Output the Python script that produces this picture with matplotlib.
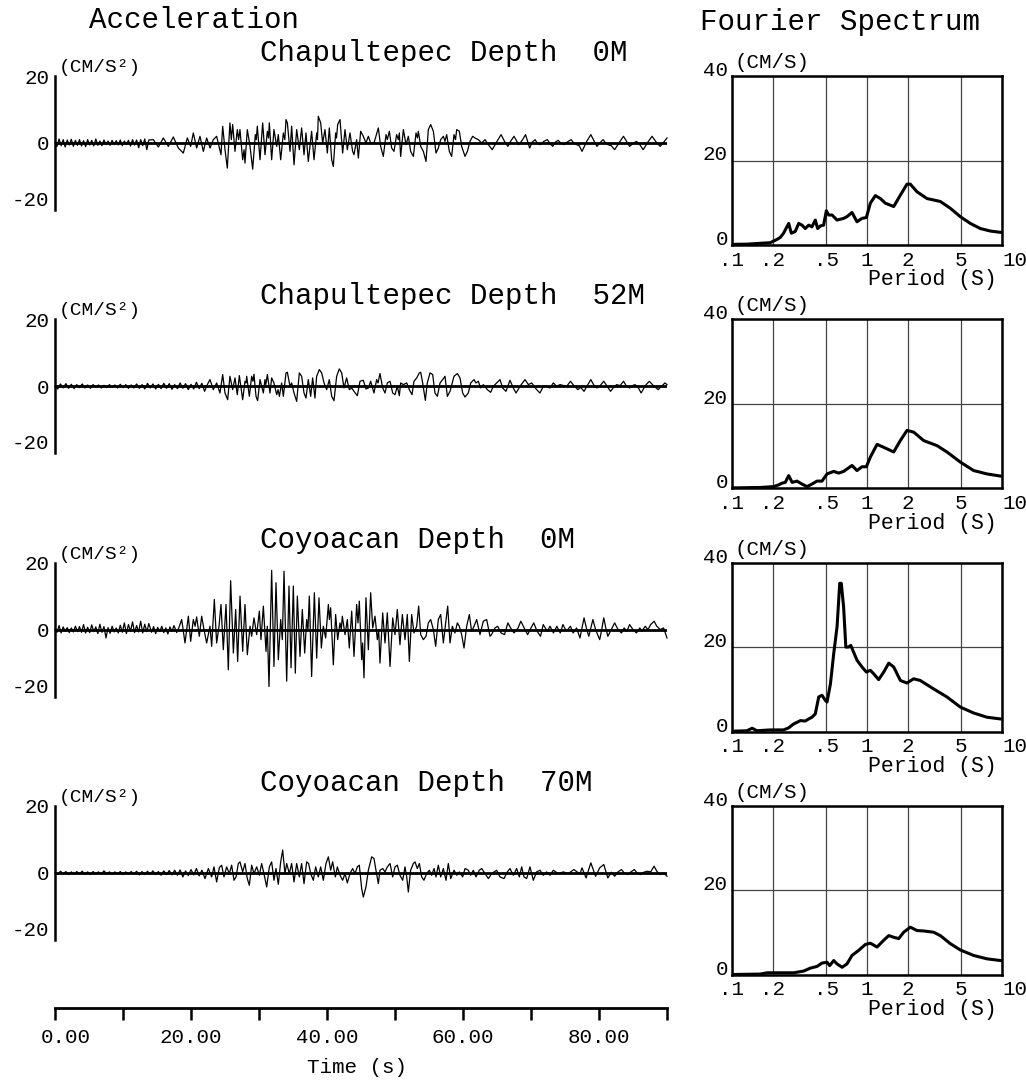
import matplotlib
matplotlib.use('Agg')
import matplotlib.pyplot as plt
from matplotlib.ticker import NullLocator

plt.rcParams['font.family'] = ['Liberation Mono', 'DejaVu Sans Mono']

# ---------------- data ----------------
titles = ['Chapultepec Depth  0M', 'Chapultepec Depth  52M',
          'Coyoacan Depth  0M', 'Coyoacan Depth  70M']

# acceleration traces (time s, cm/s^2), peaks and troughs as read
chap0 = [
    (0.0, 0.2), (0.3, -1.0), (0.6, 1.2), (0.9, -0.8), (1.2, 1.0), (1.5, -1.2), (1.8, 0.9), (2.1, -0.6),
    (2.4, 1.1), (2.7, -1.0), (3.0, 0.8), (3.3, -0.7), (3.6, 1.0), (3.9, -0.9), (4.2, 0.7), (4.5, -1.1),
    (4.8, 1.0), (5.1, -0.6), (5.4, 0.8), (5.7, -0.9), (6.0, 1.2), (6.3, -0.7), (6.6, 0.6), (6.9, -0.8),
    (7.2, 0.9), (7.5, -0.5), (7.8, 0.6), (8.1, -0.7), (8.4, 0.8), (8.7, -0.5), (9.0, 0.7), (9.3, -0.6),
    (9.6, 0.9), (9.9, -0.8), (10.2, 0.6), (10.5, -0.5), (10.8, 0.8), (11.1, -0.9), (11.4, 1.0), (11.7, -0.6),
    (12.0, 0.9), (12.3, -1.4), (12.6, 1.0), (12.9, -0.8), (13.2, 1.2), (13.5, -2.0), (13.8, 0.9),
    (14.46, 1.0), (15.2, -1.2), (15.93, 1.5), (16.67, -1.0), (17.4, 1.8), (18.14, -1.5), (18.87, -3.0),
    (19.46, 1.5), (19.95, -1.0), (20.34, 3.0), (20.83, -1.5), (21.32, 2.0), (21.81, -2.5), (22.3, 1.5),
    (22.8, -1.5), (23.28, 1.0), (23.77, 2.0), (24.12, -1.0), (24.41, -3.5), (24.66, 5.0), (25.0, -2.0),
    (25.34, -7.5), (25.73, 6.0), (25.93, 1.0), (26.13, 5.5), (26.47, -2.5), (26.81, 4.0), (27.0, 1.0),
    (27.2, 4.0), (27.6, -5.0), (27.8, -2.0), (27.94, -6.0), (28.28, 4.0), (28.68, -1.0), (29.07, -7.8),
    (29.46, 2.5), (29.6, 1.0), (29.75, 5.0), (30.15, -5.0), (30.54, 6.0), (30.88, -3.5), (31.23, 3.5),
    (31.4, 1.5), (31.52, 6.0), (31.86, -5.0), (32.2, 4.0), (32.6, -1.0), (32.84, 2.5), (33.19, -5.0),
    (33.58, 3.0), (33.8, 1.0), (33.97, 7.0), (34.17, 6.0), (34.56, -2.5), (34.8, 5.0), (35.15, -6.5),
    (35.54, 4.0), (35.93, -2.0), (36.27, 4.5), (36.62, -3.5), (36.91, 3.0), (37.25, -5.5), (37.74, 3.5),
    (38.09, -5.0), (38.48, 3.0), (38.6, 1.0), (38.72, 8.0), (39.07, 6.0), (39.36, 0.0), (39.7, 4.0),
    (40.05, -3.0), (40.34, 4.5), (40.69, -5.0), (40.93, -7.0), (41.27, 3.0), (41.4, 1.5), (41.57, 5.5),
    (41.91, 7.0), (42.3, -3.0), (42.65, 4.0), (42.99, -2.0), (43.38, 3.0), (43.77, -2.5), (43.97, -3.5),
    (44.36, 1.0), (44.61, -4.5), (44.95, 3.5), (45.34, 2.0), (45.73, 0.0), (46.08, 2.0), (46.42, 0.0),
    (46.91, 0.0), (47.55, 4.5), (47.89, -1.0), (48.28, -4.0), (48.68, 2.5), (48.87, 1.0), (49.17, 3.5),
    (49.51, -1.5), (49.85, -2.5), (50.24, 2.5), (50.5, 1.0), (50.64, 3.0), (50.83, -4.0), (51.23, 4.0),
    (51.62, -0.5), (51.96, 2.0), (52.3, -2.5), (52.7, -4.0), (53.09, 3.0), (53.3, 1.5), (53.43, 3.5),
    (53.78, -1.0), (54.17, -2.5), (54.56, -5.5), (54.9, 4.0), (55.25, 5.5), (55.64, 3.5), (56.03, -3.0),
    (56.37, -1.5), (56.72, 1.0), (57.11, 2.0), (57.35, 0.5), (57.6, 2.5), (57.99, -2.5), (58.33, -4.0),
    (58.68, 2.5), (58.9, 1.0), (59.07, 4.0), (59.46, 3.5), (59.8, -1.0), (60.3, -4.0), (60.64, -2.5),
    (61.03, 0.5), (61.42, 2.0), (61.76, 1.5), (62.25, 1.0), (62.75, 0.0), (63.24, 1.0), (63.73, -0.5),
    (64.3, -2.0), (65.0, 0.5), (65.6, 2.5), (66.1, 0.5), (66.6, -1.0), (67.0, 0.5), (67.5, 2.0),
    (68.2, -0.5), (68.7, 0.8), (69.2, 2.5), (69.8, -1.5), (70.2, 0.3), (70.6, 1.0), (71.0, -0.3),
    (71.4, -0.5), (71.9, 0.5), (72.4, 1.0), (72.8, -0.2), (73.2, -1.0), (73.6, 0.3), (74.0, 0.8),
    (74.5, -0.3), (74.9, -0.5), (75.4, 0.4), (75.9, 1.0), (76.3, 0.0), (76.7, -0.5), (77.1, -0.8),
    (77.5, -2.5), (78.2, 0.5), (78.8, 2.5), (79.3, 0.5), (79.7, -1.0), (80.2, 0.2), (80.6, 1.0),
    (81.0, 0.0), (81.3, -0.5), (81.8, -0.8), (82.3, -2.0), (83.0, 0.2), (83.6, 2.0), (84.1, 0.3),
    (84.5, -1.0), (85.0, -0.2), (85.5, 0.5), (86.0, -0.5), (86.5, -2.0), (87.2, 0.3), (87.8, 2.0),
    (88.4, 0.3), (89.0, -1.0), (89.5, 0.2), (90.0, 1.5),
]

chap52 = [
    (0.0, 0.0), (0.4, -0.8), (0.8, 0.7), (1.2, -0.5), (1.6, 0.8), (2.0, -0.6), (2.4, 0.6), (2.8, -0.7),
    (3.2, 0.5), (3.6, -0.4), (4.0, 0.7), (4.4, -0.5), (4.8, 0.4), (5.2, -0.6), (5.6, 0.5), (6.0, -0.3),
    (6.4, 0.4), (6.8, -0.5), (7.2, 0.3), (7.6, -0.4), (8.0, 0.5), (8.4, -0.3), (8.8, 0.4), (9.2, -0.5),
    (9.6, 0.6), (10.0, -0.4), (10.4, 0.5), (10.8, -0.6), (11.2, 0.4), (11.6, -0.5), (12.0, 0.7), (12.4, -0.6),
    (12.8, 0.5), (13.2, -0.8), (13.6, 0.9), (14.0, -0.5), (14.4, 0.7), (14.8, -0.8), (15.2, 0.6), (15.6, -0.7),
    (16.0, 0.9), (16.4, -0.6), (16.8, 0.8), (17.2, -0.9), (17.6, 0.5), (18.0, -0.7), (18.4, 1.0), (18.8, -0.6),
    (19.2, 0.8), (19.6, -1.0), (20.0, 0.6), (20.4, -0.8), (20.8, 1.2), (21.2, -0.7), (21.6, 0.9), (22.0, -1.5),
    (22.4, 0.5), (22.79, 2.0), (23.28, -1.0), (23.77, 1.0), (24.26, -2.0), (24.66, 3.5), (25.0, -2.0),
    (25.39, -4.0), (25.73, 3.0), (26.13, -1.0), (26.47, 2.5), (26.81, -2.5), (27.11, 3.2), (27.6, -4.0),
    (27.94, 1.5), (28.1, 1.0), (28.19, 3.0), (28.58, -3.0), (28.92, 3.0), (29.1, 1.5), (29.26, 3.6),
    (29.56, -3.0), (29.8, -4.3), (30.15, 2.0), (30.64, -2.0), (30.88, 2.0), (31.0, 0.5), (31.23, 3.5),
    (31.62, -2.0), (31.86, 2.5), (32.2, 1.0), (32.6, -2.5), (32.8, -1.0), (33.0, -3.0), (33.33, 1.0),
    (33.58, -3.0), (33.97, 4.0), (34.17, 4.2), (34.56, 0.0), (34.8, 1.0), (35.15, -2.0), (35.54, -4.5),
    (35.93, 4.0), (36.27, 3.0), (36.62, -2.0), (36.91, -3.5), (37.25, 2.0), (37.6, -3.0), (37.89, 2.5),
    (38.23, -3.5), (38.48, 3.0), (38.87, 5.0), (39.22, 4.0), (39.56, 1.0), (39.95, -1.0), (40.34, 2.0),
    (40.69, -3.0), (41.03, -4.3), (41.42, 3.0), (41.81, 5.2), (42.16, 4.0), (42.5, -0.5), (42.89, 2.5),
    (43.28, -1.0), (43.63, -0.5), (43.97, -1.5), (44.46, -2.8), (44.85, 1.5), (45.34, 1.8), (45.73, -0.8),
    (46.08, -0.5), (46.42, 1.5), (46.91, -2.0), (47.3, 2.0), (47.5, 1.0), (47.79, 3.8), (48.19, -0.5),
    (48.53, -2.0), (48.87, 1.0), (49.27, 1.5), (49.66, -2.0), (50.0, -2.5), (50.34, 0.0), (50.64, -2.8),
    (50.83, 1.0), (51.23, 0.5), (51.72, 1.0), (52.11, -1.0), (52.5, -2.5), (52.79, 1.5), (53.19, 2.5),
    (53.58, 4.0), (53.78, 4.2), (54.07, 1.0), (54.46, -4.2), (54.75, 1.0), (55.15, 4.0), (55.54, 3.5),
    (55.88, -2.0), (56.23, -3.0), (56.62, 1.0), (57.01, 2.0), (57.35, 3.0), (57.7, -3.0), (58.09, -1.5),
    (58.68, 3.0), (59.17, 3.8), (59.56, 2.5), (59.95, -2.0), (60.3, -3.2), (60.78, -2.0), (61.13, 1.0),
    (61.62, 2.0), (61.9, 1.0), (62.25, 1.5), (62.6, -0.5), (62.99, 0.5), (63.58, -1.0), (64.07, -1.8),
    (64.46, 0.0), (64.95, 1.0), (65.44, 2.0), (65.83, -0.5), (66.32, -1.5), (66.91, 1.8), (67.4, -0.5),
    (67.8, -2.0), (68.38, 0.0), (69.12, 2.0), (69.61, 0.5), (70.1, 1.0), (70.83, -1.0), (71.32, -2.0),
    (71.81, 0.0), (72.3, 0.0), (72.79, -0.5), (73.28, 1.0), (73.77, 0.0), (74.26, 0.5), (75.25, 0.0),
    (75.8, 1.5), (76.3, 0.2), (76.9, -1.0), (77.3, -0.3), (77.8, -1.5), (78.3, 0.3), (78.8, 2.0),
    (79.2, 0.5), (79.7, -0.5), (80.2, 0.3), (80.7, 1.5), (81.2, 0.0), (81.7, -1.5), (82.2, -0.2),
    (82.6, 0.5), (83.1, 0.2), (83.6, 1.5), (84.0, 0.2), (84.5, -0.5), (84.9, 0.2), (85.3, 0.5),
    (85.8, -0.5), (86.2, -2.0), (86.8, 0.2), (87.4, 1.5), (88.0, 0.2), (88.7, -1.0), (89.2, 0.0),
    (89.7, 1.0), (90.0, 0.5),
]

coy0 = [
    (0.0, 0.0), (0.3, -0.8), (0.6, 1.2), (0.9, -1.0), (1.2, 0.8), (1.5, -0.5), (1.8, 0.6), (2.1, -0.9),
    (2.4, 0.5), (2.7, -0.7), (3.0, 1.0), (3.3, -0.6), (3.6, 0.9), (3.9, -0.8), (4.2, 1.5), (4.5, -1.0),
    (4.8, 0.7), (5.1, -0.9), (5.4, 1.4), (5.7, -0.6), (6.0, 0.8), (6.3, -1.2), (6.6, 1.6), (6.9, -0.8),
    (7.2, 0.9), (7.5, -2.5), (7.8, 0.6), (8.1, -1.1), (8.4, 1.0), (8.7, -0.7), (9.0, 0.5), (9.3, -1.0),
    (9.6, 1.3), (9.9, -0.8), (10.2, 2.0), (10.5, -1.2), (10.8, 1.5), (11.1, -0.5), (11.4, 2.3), (11.7, -0.9),
    (12.0, 1.2), (12.3, -0.7), (12.6, 2.5), (12.9, -1.0), (13.2, 1.6), (13.5, -0.6), (13.8, 1.8),
    (14.2, -0.8), (14.5, 0.9), (14.8, -1.2), (15.1, 0.7), (15.4, -0.6), (15.7, 1.0), (16.0, -0.9),
    (16.3, 0.5), (16.6, -1.3), (16.9, 0.8), (17.2, -0.5), (17.5, 1.2), (17.9, -0.9), (18.2, 0.5),
    (18.63, 3.0), (19.12, -4.0), (19.61, 4.0), (19.95, -3.5), (20.34, 3.0), (20.6, 1.0), (20.83, 3.8),
    (21.22, -2.0), (21.57, 4.0), (21.91, 0.0), (22.3, -4.0), (22.79, 1.0), (23.04, -5.0), (23.43, 9.0),
    (23.77, -4.0), (24.12, 1.0), (24.41, 7.5), (24.75, -6.0), (25.15, 7.5), (25.49, -12.0), (25.83, 14.6),
    (26.23, -7.0), (26.57, 6.0), (26.86, -9.5), (27.21, 10.0), (27.6, -6.5), (27.94, 7.5), (28.28, -7.5),
    (28.68, 1.0), (28.92, -2.0), (29.26, 3.5), (29.66, -1.5), (30.05, 5.5), (30.29, -3.0), (30.64, 7.0),
    (31.03, -6.5), (31.22, 1.0), (31.47, -17.0), (31.86, 17.7), (32.2, -11.0), (32.5, 14.0), (32.84, -9.0),
    (33.19, 3.0), (33.43, -3.0), (33.68, 17.4), (34.07, -15.4), (34.41, 13.0), (34.71, -11.4), (35.05, 13.0),
    (35.34, -13.0), (35.64, 10.0), (36.03, -8.0), (36.37, 6.0), (36.72, -7.0), (37.01, 3.0), (37.2, 0.0),
    (37.4, 10.0), (37.74, -14.0), (38.14, 11.0), (38.48, -8.5), (38.82, 9.5), (39.17, -5.5), (39.46, 1.0),
    (39.8, -2.5), (40.2, 7.5), (40.35, 3.0), (40.54, 6.5), (40.93, -10.5), (41.27, 4.5), (41.57, -3.0),
    (41.91, 2.0), (42.1, 0.0), (42.25, 4.0), (42.65, -1.5), (42.99, 3.0), (43.28, -5.5), (43.63, 5.5),
    (43.97, -8.0), (44.36, 7.5), (44.56, 2.0), (44.75, 8.5), (45.1, -9.0), (45.24, -4.0), (45.44, -14.4),
    (45.73, 9.5), (46.08, -6.0), (46.42, 11.0), (46.72, 0.5), (47.06, 4.0), (47.4, -3.0), (47.6, 0.0),
    (47.79, -10.0), (48.19, 5.0), (48.53, -4.0), (48.87, 5.0), (49.27, -11.0), (49.66, 3.5), (50.0, -1.5),
    (50.34, 6.0), (50.73, -4.5), (51.08, 4.5), (51.47, -3.0), (51.81, 4.5), (52.11, -9.5), (52.45, 4.5),
    (52.79, -1.0), (53.19, 1.0), (53.48, 7.0), (53.78, -1.5), (54.17, -3.0), (54.56, -2.0), (54.9, 2.0),
    (55.25, 3.0), (55.64, 0.0), (55.98, -5.0), (56.37, 3.0), (56.72, 4.5), (57.11, -4.0), (57.45, 2.0),
    (57.75, 7.0), (58.09, -4.0), (58.43, 1.0), (58.82, -1.0), (59.17, 2.0), (59.46, 1.0), (59.8, -1.5),
    (60.15, -5.5), (60.54, 1.0), (60.93, 4.5), (61.27, -0.5), (61.62, 1.0), (62.01, 3.0), (62.5, -1.5),
    (62.99, 2.5), (63.48, 3.0), (63.97, -2.0), (64.2, -1.5), (64.7, 0.5), (65.1, 1.0), (65.6, -1.0),
    (66.1, -1.5), (66.6, 2.0), (67.0, 0.5), (67.5, -1.0), (68.1, 0.5), (68.5, 2.5), (69.0, 0.5),
    (69.5, -1.5), (70.0, 0.5), (70.4, 2.0), (70.9, -0.5), (71.4, -2.0), (71.8, 1.5), (72.4, -0.5),
    (72.8, 1.0), (73.3, -1.0), (73.8, 1.0), (74.3, -1.0), (74.7, 1.5), (75.2, -0.5), (75.8, 1.0),
    (76.2, -1.0), (76.7, 0.5), (77.2, -2.5), (77.8, 3.5), (78.2, 0.0), (78.5, -2.0), (78.8, 0.5),
    (79.1, 3.0), (79.5, 0.0), (80.1, -3.0), (80.4, 0.0), (80.7, 3.5), (81.0, 0.5), (81.3, -2.0),
    (81.8, 0.0), (82.3, 2.0), (82.8, 0.0), (83.3, -1.0), (83.7, 0.5), (84.1, -0.5), (84.5, 1.5),
    (85.0, 0.0), (85.5, -1.0), (86.0, 0.5), (86.3, -0.5), (86.8, 1.0), (87.2, 0.0), (87.6, 1.5),
    (88.1, 2.5), (88.5, 1.0), (89.0, 0.0), (89.5, 0.5), (90.0, -2.5),
]

coy70 = [
    (0.0, 0.0), (0.4, -0.4), (0.8, 0.5), (1.2, -0.3), (1.6, 0.4), (2.0, -0.5), (2.4, 0.3), (2.8, -0.4),
    (3.2, 0.4), (3.6, -0.3), (4.0, 0.5), (4.4, -0.4), (4.8, 0.3), (5.2, -0.5), (5.6, 0.4), (6.0, -0.3),
    (6.4, 0.3), (6.8, -0.4), (7.2, 0.6), (7.6, -0.3), (8.0, 0.3), (8.4, -0.4), (8.8, 0.3), (9.2, -0.3),
    (9.6, 0.4), (10.0, -0.5), (10.4, 0.3), (10.8, -0.3), (11.2, 0.4), (11.6, -0.4), (12.0, 0.5), (12.4, -0.6),
    (12.8, 0.4), (13.2, -0.5), (13.6, 0.5), (14.0, -0.4), (14.4, 0.6), (14.8, -0.5), (15.2, 0.4), (15.6, -0.7),
    (16.0, 0.6), (16.4, -0.5), (16.8, 0.7), (17.2, -0.6), (17.6, 0.8), (18.0, -0.7), (18.4, 0.9), (18.8, -1.2),
    (19.2, 0.6), (19.6, -0.8), (20.0, 1.0), (20.4, -0.6), (20.8, 1.3), (21.2, -0.9), (21.6, 0.8),
    (22.06, -1.7), (22.55, 1.3), (23.04, -1.2), (23.38, 1.8), (23.77, -2.7), (24.17, 1.6), (24.51, 2.3),
    (24.85, -1.2), (25.24, 1.8), (25.64, -0.2), (25.98, 2.3), (26.32, -2.2), (26.62, -1.2), (26.96, 2.8),
    (27.2, 3.3), (27.6, 0.3), (27.94, 2.8), (28.28, -1.7), (28.58, -3.7), (28.92, 2.3), (29.26, -0.2),
    (29.66, 1.8), (30.05, -0.7), (30.39, 2.8), (30.73, -0.2), (31.13, -4.2), (31.52, 1.8), (31.86, 3.3),
    (32.2, -2.2), (32.5, 1.3), (32.84, -3.4), (33.19, 3.3), (33.48, 6.8), (33.82, -0.2), (34.07, 2.8),
    (34.46, -0.2), (34.8, 2.8), (35.15, -2.7), (35.54, 2.8), (35.93, -1.2), (36.27, 2.8), (36.62, -3.2),
    (37.01, 3.3), (37.3, 2.8), (37.6, -0.2), (37.99, -2.2), (38.33, 1.8), (38.72, -1.2), (39.07, 1.8),
    (39.46, -2.2), (39.85, 2.8), (40.2, 4.8), (40.54, 0.8), (40.83, 3.3), (41.23, -1.2), (41.52, 1.8),
    (41.91, -0.7), (42.3, -2.2), (42.65, -0.2), (42.99, -3.0), (43.38, -0.2), (43.77, 1.3), (44.12, -0.2),
    (44.46, 1.8), (44.75, 2.3), (45.1, -4.7), (45.34, -7.2), (45.73, -4.2), (46.08, 0.8), (46.32, 2.8),
    (46.57, 4.8), (46.91, 4.3), (47.2, 0.8), (47.55, -3.2), (47.79, 0.8), (48.19, 1.3), (48.53, 0.3),
    (48.87, 1.8), (49.27, 2.8), (49.66, -1.2), (50.0, 1.8), (50.34, 2.3), (50.73, -0.7), (51.13, -2.2),
    (51.47, 1.8), (51.72, -1.2), (51.96, -5.7), (52.3, 0.8), (52.7, 2.8), (52.94, 3.3), (53.28, 1.3),
    (53.58, 2.8), (53.92, -1.2), (54.26, -2.2), (54.66, -0.2), (55.05, 0.8), (55.39, -0.7), (55.74, 1.3),
    (56.03, -1.2), (56.37, 2.3), (56.72, -1.2), (57.11, 1.3), (57.5, -2.2), (57.84, 2.8), (58.19, -1.7),
    (58.68, 0.8), (59.07, -0.7), (59.46, 0.3), (59.95, -1.2), (60.3, 1.3), (60.78, 0.8), (61.13, -0.7),
    (61.52, 0.8), (61.91, -1.2), (62.4, 0.8), (62.75, 1.3), (63.24, -0.2), (63.73, -1.7), (64.22, -0.2),
    (64.95, 0.8), (65.44, -1.2), (66.03, -1.7), (66.52, 0.3), (66.91, 1.3), (67.4, -0.7), (67.89, 1.3),
    (68.28, -1.2), (68.63, 1.8), (68.97, -1.2), (69.36, -1.7), (69.85, 1.8), (70.34, -2.2), (70.83, 0.3),
    (71.32, 0.8), (71.81, -0.7), (72.3, 0.3), (72.79, -0.7), (73.28, 0.8), (74.02, -0.2), (74.75, 0.3),
    (75.49, -0.2), (76.3, 1.0), (77.2, -0.3), (77.5, 1.5), (78.1, -1.5), (78.8, 3.0), (79.5, -1.0),
    (80.1, 1.5), (80.7, 2.5), (81.3, -1.5), (81.8, 0.2), (82.3, -1.0), (82.8, 0.3), (83.3, 1.0),
    (83.7, 0.0), (84.2, -0.5), (84.7, 0.3), (85.2, 1.0), (85.6, 0.0), (86.1, -0.5), (86.6, 0.2),
    (87.1, 0.5), (87.6, 0.3), (88.1, 2.0), (88.5, 0.5), (89.0, -0.5), (89.5, 0.0), (90.0, -1.0),
]

# Fourier spectra (period s, cm/s)
spec_chap0 = [
    (0.103, 0.16), (0.129, 0.2), (0.162, 0.4), (0.192, 0.55), (0.215, 1.3), (0.228, 1.8), (0.241, 2.8),
    (0.255, 4.3), (0.263, 5.1), (0.275, 2.8), (0.294, 3.2), (0.312, 5.1), (0.330, 4.7), (0.349, 3.9),
    (0.370, 4.7), (0.391, 4.3), (0.414, 5.9), (0.431, 3.9), (0.451, 4.5), (0.477, 4.7), (0.500, 8.1),
    (0.520, 7.1), (0.551, 7.1), (0.600, 5.9), (0.671, 6.3), (0.711, 6.7), (0.774, 7.7), (0.843, 5.5),
    (0.918, 6.3), (0.989, 6.5), (1.059, 9.9), (1.153, 11.7), (1.256, 11.0), (1.367, 9.9), (1.577, 9.1),
    (1.766, 11.8), (1.978, 14.4), (2.094, 14.4), (2.345, 12.6), (2.781, 11.0), (3.493, 10.3),
    (4.140, 8.7), (4.913, 6.7), (5.826, 5.1), (6.911, 3.9), (8.196, 3.3), (9.72, 3.0),
]
spec_chap52 = [
    (0.103, 0.1), (0.162, 0.2), (0.203, 0.4), (0.221, 0.8), (0.234, 1.2), (0.248, 1.4), (0.263, 3.0),
    (0.279, 1.4), (0.303, 1.7), (0.330, 1.0), (0.360, 0.4), (0.391, 1.0), (0.426, 1.7), (0.464, 1.7),
    (0.506, 3.4), (0.567, 4.0), (0.617, 3.6), (0.671, 4.0), (0.774, 5.4), (0.843, 4.2), (0.918, 5.1),
    (0.989, 5.1), (1.059, 7.4), (1.187, 10.4), (1.330, 9.7), (1.577, 8.6), (1.766, 11.3), (1.978, 13.7),
    (2.216, 13.3), (2.628, 11.3), (3.300, 10.1), (3.911, 8.6), (4.913, 6.2), (6.166, 4.2), (7.743, 3.4),
    (9.72, 2.9),
]
spec_coy0 = [
    (0.103, 0.1), (0.129, 0.2), (0.141, 0.8), (0.153, 0.2), (0.192, 0.4), (0.241, 0.4), (0.263, 0.9),
    (0.286, 1.8), (0.303, 2.2), (0.321, 2.6), (0.349, 2.5), (0.370, 3.0), (0.391, 3.4), (0.414, 4.2),
    (0.439, 8.2), (0.464, 8.6), (0.491, 7.4), (0.506, 7.0), (0.536, 11.3), (0.567, 18.5), (0.600, 24.8),
    (0.628, 35.1), (0.645, 35.1), (0.671, 29.5), (0.697, 20.0), (0.729, 20.0), (0.758, 20.4),
    (0.796, 18.8), (0.843, 16.9), (0.918, 15.3), (0.989, 14.1), (1.059, 14.5), (1.120, 13.7),
    (1.220, 12.3), (1.330, 14.1), (1.449, 16.2), (1.577, 15.3), (1.766, 12.1), (1.978, 11.5),
    (2.216, 12.5), (2.480, 12.1), (3.116, 10.1), (3.911, 8.2), (4.913, 5.8), (6.166, 4.4),
    (7.743, 3.4), (9.72, 3.0),
]
spec_coy70 = [
    (0.103, 0.1), (0.162, 0.2), (0.182, 0.5), (0.228, 0.5), (0.286, 0.5), (0.339, 0.9), (0.380, 1.6),
    (0.426, 2.0), (0.464, 2.8), (0.506, 3.0), (0.529, 2.2), (0.567, 3.4), (0.600, 2.6), (0.654, 1.8),
    (0.711, 2.6), (0.774, 4.6), (0.867, 5.8), (0.972, 7.2), (1.059, 7.5), (1.187, 6.6), (1.330, 8.2),
    (1.449, 9.3), (1.577, 8.9), (1.718, 8.6), (1.870, 10.1), (2.094, 11.3), (2.345, 10.5),
    (2.628, 10.4), (3.116, 10.1), (3.493, 9.3), (4.140, 7.4), (4.913, 5.9), (6.166, 4.6),
    (7.743, 3.8), (9.72, 3.4),
]

traces = [chap0, chap52, coy0, coy70]
spectra = [spec_chap0, spec_chap52, spec_coy0, spec_coy70]

period_ticks = [0.1, 0.2, 0.5, 1, 2, 5, 10]
period_labels = ['.1', '.2', '.5', '1', '2', '5', '10']
time_ticks = [0, 10, 20, 30, 40, 50, 60, 70, 80, 90]
time_labels = [0, 20, 40, 60, 80]

# ---------------- layout (pixels of a 1026x1081 canvas) ----------------
W, H = 1026, 1081
fig = plt.figure(figsize=(W / 100, H / 100), dpi=100)


def box(x0, y0, x1, y1):
    return [x0 / W, 1 - y1 / H, (x1 - x0) / W, (y1 - y0) / H]


def fx(px):
    return px / W


def fy(py):
    return 1 - py / H


ROW = 243.3
fig.text(fx(89), fy(28), 'Acceleration', fontsize=21, va='baseline')
fig.text(fx(700), fy(30), 'Fourier Spectrum', fontsize=21, va='baseline')

for i in range(4):
    zero = 143 + ROW * i
    ax = fig.add_axes(box(55, zero - 67, 667, zero + 67))
    t, a = zip(*traces[i])
    ax.axhline(0, color='black', lw=2.0, zorder=1)
    ax.plot(t, a, color='black', lw=0.9, zorder=2, clip_on=False)
    ax.set_xlim(0, 90)
    ax.set_ylim(-20, 20)
    for s in ['top', 'right', 'bottom']:
        ax.spines[s].set_visible(False)
    ax.spines['left'].set_linewidth(1.8)
    ax.set_xticks([])
    ax.set_yticks([-20, 0, 20])
    ax.set_yticklabels(['-20', '0', '20'])
    ax.tick_params(axis='y', length=0, pad=4, labelsize=15)
    ax.get_yticklabels()[0].set_verticalalignment('bottom')
    ax.annotate('(CM/S²)', xy=(0, 20), xytext=(3, 0), textcoords='offset points',
                fontsize=14, va='bottom', ha='left')
    ax.patch.set_visible(False)
    fig.text(fx(260), fy(zero - 82), titles[i], fontsize=21, va='baseline')

    # spectrum panel
    top = 76 + ROW * i
    sx = fig.add_axes(box(732, top, 1002, top + 169))
    p, amp = zip(*spectra[i])
    sx.plot(p, amp, color='black', lw=2.2)
    sx.set_xscale('log')
    sx.set_xlim(0.1, 10)
    sx.set_ylim(0, 40)
    sx.set_xticks(period_ticks)
    sx.set_xticklabels(period_labels)
    sx.xaxis.set_minor_locator(NullLocator())
    sx.set_yticks([0, 20, 40])
    sx.set_yticklabels(['0', '20', '40'])
    sx.tick_params(length=0, labelsize=15)
    sx.tick_params(axis='x', pad=4)
    sx.tick_params(axis='y', pad=3)
    for lab in sx.get_yticklabels():
        lab.set_verticalalignment('baseline')
    sx.get_xticklabels()[-1].set_horizontalalignment('left')
    sx.grid(True, color='#444444', lw=0.9)
    for s in sx.spines.values():
        s.set_linewidth(1.8)
    sx.text(0.011, 1.024, '(CM/S)', transform=sx.transAxes, fontsize=15, va='bottom', ha='left')
    sx.text(0.981, -0.207, 'Period (S)', transform=sx.transAxes, fontsize=15.5, va='center', ha='right')

# time axis
tx = fig.add_axes(box(55, 998, 667, 1008))
tx.set_xlim(0, 90)
tx.set_ylim(0, 1)
for s in ['top', 'right', 'left']:
    tx.spines[s].set_visible(False)
tx.spines['bottom'].set_linewidth(2.0)
tx.set_yticks([])
tx.set_xticks(time_ticks)
tx.set_xticklabels([])
tx.tick_params(axis='x', direction='out', length=8.6, width=1.8)
tx.patch.set_visible(False)
for v in time_labels:
    dx = 8 if v == 0 else 0
    tx.annotate(f'{v:.2f}', xy=(v, 0), xycoords=('data', 'axes fraction'),
                xytext=(dx, -21), textcoords='offset points',
                fontsize=15, ha='center', va='center')
tx.annotate('Time (s)', xy=(0.5, 0), xycoords='axes fraction', xytext=(-3, -43),
            textcoords='offset points', fontsize=15, ha='center', va='center')

fig.savefig('out.png', dpi=100)
